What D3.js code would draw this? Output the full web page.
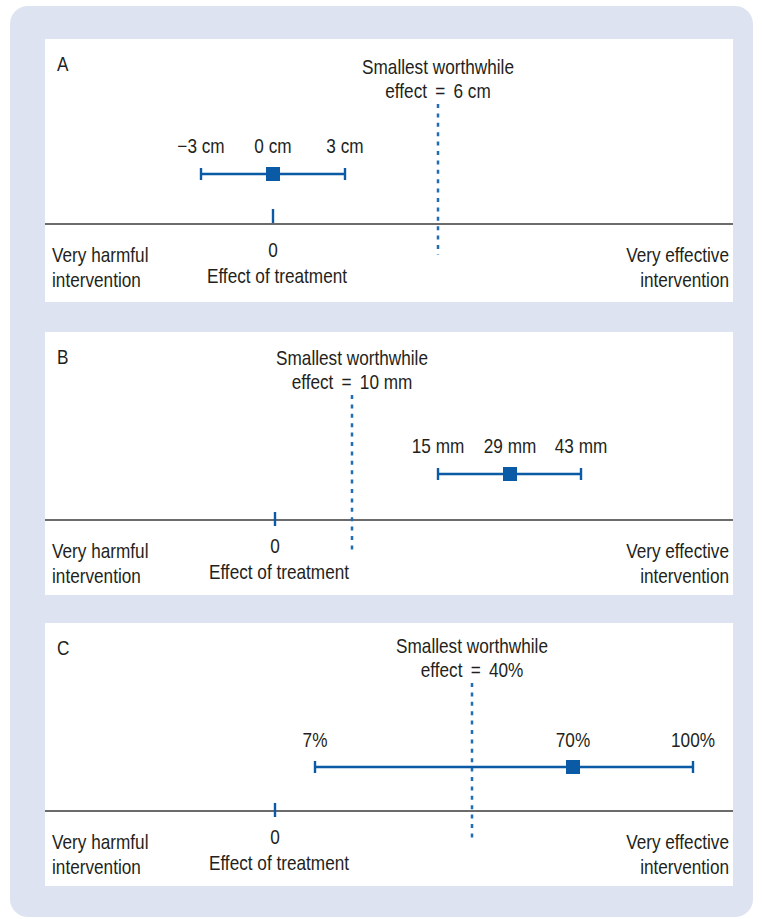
<!DOCTYPE html>
<html>
<head>
<meta charset="utf-8">
<script src="https://cdn.jsdelivr.net/npm/d3@7"></script>
<style>
  html, body { margin: 0; padding: 0; background: #fff; }
  svg text { font-family: "Liberation Sans", Arial, sans-serif; fill: #231f20; }
</style>
</head>
<body>
<div id="chart"></div>
<script>
// Three schematic panels: confidence interval of a treatment effect vs the smallest worthwhile effect.

const panelLetters = ['A', 'B', 'C'];
const units = ['cm', 'mm', '%'];
const smallestWorthwhile = [6, 10, 40];
const ciLower = [-3, 15, 7];
const ciPoint = [0, 29, 70];
const ciUpper = [3, 43, 100];
const zeroValue = 0;
const axisTitle = 'Effect of treatment';
const swTitle = 'Smallest worthwhile';
const leftEnd = ['Very harmful', 'intervention'];
const rightEnd = ['Very effective', 'intervention'];

// The figure is a schematic, the axis is not proportional: each panel gets a piecewise scale.
// stops are x positions inside the panel for the sorted values of that panel.
const layouts = [
  { top: 39, stops: [156, 228, 300, 393], swY: 35, labelY: 114, ciY: 135, axisY: 185, tickAbove: true },
  { top: 332, stops: [230, 307, 393, 465, 536], swY: 33, labelY: 121, ciY: 142, axisY: 188, tickAbove: false },
  { top: 623, stops: [230, 270, 427, 528, 648], swY: 30, labelY: 124, ciY: 144, axisY: 188, tickAbove: false }
];

const width = 762;
const height = 919;
const panelX = 45;
const panelW = 688;
const panelH = 263;
const blue = '#0b5aa6';
const dotBlue = '#1f6db5';
const fontSize = 20;
const squeeze = 0.86; // the original type is a condensed face

const svg = d3.select('#chart').append('svg')
  .attr('width', width)
  .attr('height', height);

// light background card
svg.append('rect')
  .attr('x', 10).attr('y', 6)
  .attr('width', 743).attr('height', 911)
  .attr('rx', 18)
  .attr('fill', '#dde3f1');

function fmt(v, unit) {
  const num = v < 0 ? '\u2212' + Math.abs(v) : String(v);
  return unit === '%' ? num + '%' : num + ' ' + unit;
}

function label(g, x, y, str, anchor) {
  return g.append('text')
    .attr('transform', `translate(${x},${y}) scale(${squeeze},1)`)
    .attr('text-anchor', anchor || 'start')
    .attr('font-size', fontSize)
    .text(str);
}

panelLetters.forEach((letter, i) => {
  const lay = layouts[i];
  const domain = Array.from(new Set([zeroValue, smallestWorthwhile[i], ciLower[i], ciPoint[i], ciUpper[i]]))
    .sort((a, b) => a - b);
  const x = d3.scaleLinear().domain(domain).range(lay.stops);

  const g = svg.append('g').attr('transform', `translate(${panelX},${lay.top})`);

  g.append('rect')
    .attr('width', panelW).attr('height', panelH)
    .attr('fill', '#fff');

  label(g, 12, 32, letter);

  // baseline of the effect scale
  g.append('line')
    .attr('x1', 0).attr('x2', panelW)
    .attr('y1', lay.axisY).attr('y2', lay.axisY)
    .attr('stroke', '#3a3a3a')
    .attr('stroke-width', 1.3);

  // zero tick
  const t0 = lay.tickAbove ? lay.axisY - 15 : lay.axisY - 8;
  g.append('line')
    .attr('x1', x(zeroValue)).attr('x2', x(zeroValue))
    .attr('y1', t0).attr('y2', t0 + 14)
    .attr('stroke', blue)
    .attr('stroke-width', 2.4);

  // smallest worthwhile effect
  const xs = x(smallestWorthwhile[i]);
  g.append('line')
    .attr('x1', xs).attr('x2', xs)
    .attr('y1', lay.swY + 30).attr('y2', lay.axisY + 31)
    .attr('stroke', dotBlue)
    .attr('stroke-width', 2.5)
    .attr('stroke-dasharray', '4,5.4');

  label(g, xs, lay.swY, swTitle, 'middle');
  label(g, xs, lay.swY + 24, `effect\u00a0\u2009=\u00a0\u2009${fmt(smallestWorthwhile[i], units[i])}`, 'middle');

  // confidence interval
  const ci = [ciLower[i], ciPoint[i], ciUpper[i]];
  g.append('line')
    .attr('x1', x(ciLower[i])).attr('x2', x(ciUpper[i]))
    .attr('y1', lay.ciY).attr('y2', lay.ciY)
    .attr('stroke', blue)
    .attr('stroke-width', 2.4);

  g.selectAll('line.cap')
    .data([ciLower[i], ciUpper[i]])
    .join('line')
    .attr('class', 'cap')
    .attr('x1', d => x(d)).attr('x2', d => x(d))
    .attr('y1', lay.ciY - 6).attr('y2', lay.ciY + 6)
    .attr('stroke', blue)
    .attr('stroke-width', 2.4);

  g.append('rect')
    .attr('x', x(ciPoint[i]) - 7).attr('y', lay.ciY - 7)
    .attr('width', 14).attr('height', 14)
    .attr('fill', blue);

  ci.forEach(d => label(g, x(d), lay.labelY, fmt(d, units[i]), 'middle'));

  // labels under the axis
  label(g, x(zeroValue), lay.axisY + 33, String(zeroValue), 'middle');
  label(g, x(zeroValue) + 4, lay.axisY + 59, axisTitle, 'middle');

  leftEnd.forEach((s, k) => label(g, 7, lay.axisY + 38 + k * 25, s));
  rightEnd.forEach((s, k) => label(g, panelW - 4, lay.axisY + 38 + k * 25, s, 'end'));
});
</script>
</body>
</html>
